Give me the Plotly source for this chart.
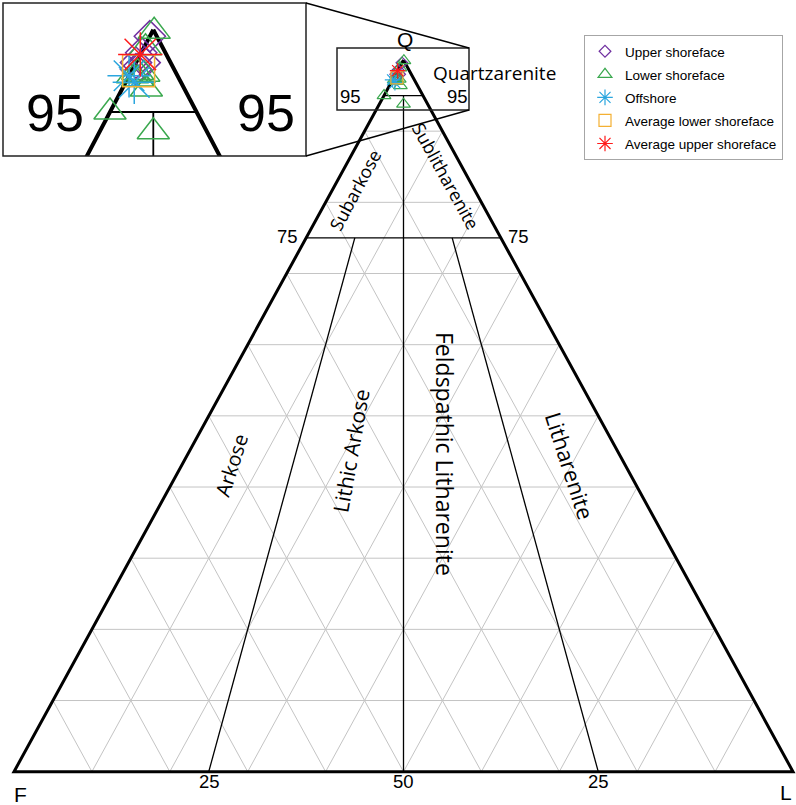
import plotly.graph_objects as go

# QFL point counts (percent Q, F, L)
upper_q = [99.6, 98.6, 98.0, 98.0, 97.6]
upper_f = [0.4, 1.4, 2.0, 1.5, 2.2]
upper_l = [0.0, 0.0, 0.0, 0.5, 0.2]

lower_q = [99.9, 98.9, 97.3, 97.4, 97.2, 97.0, 96.4, 95.0, 93.8]
lower_f = [0.0, 1.0, 1.9, 2.2, 2.6, 2.4, 2.2, 5.0, 3.1]
lower_l = [0.1, 0.1, 0.8, 0.4, 0.2, 0.6, 1.4, 0.0, 3.1]

offshore_q = [97.2, 96.8]
offshore_f = [2.8, 2.7]
offshore_l = [0.0, 0.5]

avg_lower_q = [97.5]
avg_lower_f = [2.1]
avg_lower_l = [0.4]

avg_upper_q = [98.5]
avg_upper_f = [1.5]
avg_upper_l = [0.0]

# Folk (1974) field boundaries as (Q, F, L) end points
edges = [(100, 0, 0), (0, 100, 0), (0, 0, 100), (100, 0, 0)]
folk_lines = [
    [(95, 5, 0), (95, 0, 5)],
    [(75, 25, 0), (75, 0, 25)],
    [(95, 2.5, 2.5), (0, 50, 50)],
    [(75, 18.75, 6.25), (0, 75, 25)],
    [(75, 6.25, 18.75), (0, 25, 75)],
]
grid_levels = [10, 20, 30, 40, 50, 60, 70, 80, 90]

W, H = 796, 805
# pixel positions of the F, L corners and the Q apex
FX, LX, BASE_Y, APEX_Y = 14, 793, 771.7, 60.0


def to_xy(q, f, l):
    s = q + f + l
    return l / s + q / s / 2, q / s


def path(points):
    xs, ys = [], []
    for p in points:
        x, y = to_xy(*p)
        xs.append(x)
        ys.append(y)
    return xs, ys


def segments(pairs):
    xs, ys = [], []
    for a, b in pairs:
        x, y = path([a, b])
        xs += x + [None]
        ys += y + [None]
    return xs, ys


def pp(x, y):
    return x / W, 1 - y / H


fig = go.Figure()

# gray 10 % grid
grid_pairs = []
for v in grid_levels:
    grid_pairs.append([(v, 100 - v, 0), (v, 0, 100 - v)])
    grid_pairs.append([(100 - v, v, 0), (0, v, 100 - v)])
    grid_pairs.append([(100 - v, 0, v), (0, 100 - v, v)])
gx, gy = segments(grid_pairs)
fig.add_trace(go.Scatter(x=gx, y=gy, mode='lines', line=dict(color='#c4c4c4', width=1),
                         showlegend=False, hoverinfo='skip'))

for xa, ya, thin, thick in [('x', 'y', 1.3, 3), ('x2', 'y2', 1.8, 4)]:
    fx, fy = segments(folk_lines)
    fig.add_trace(go.Scatter(x=fx, y=fy, mode='lines', line=dict(color='black', width=thin),
                             xaxis=xa, yaxis=ya, showlegend=False, hoverinfo='skip'))
    ex, ey = path(edges)
    fig.add_trace(go.Scatter(x=ex, y=ey, mode='lines', line=dict(color='black', width=thick),
                             xaxis=xa, yaxis=ya, showlegend=False, hoverinfo='skip'))

series = [
    ('Upper shoreface', upper_q, upper_f, upper_l, 'diamond-open', '#7030a0', 9, 24),
    ('Lower shoreface', lower_q, lower_f, lower_l, 'triangle-up-open', '#3aa84e', 12, 28),
    ('Offshore', offshore_q, offshore_f, offshore_l, 'asterisk-open', '#2ba6de', 13, 36),
    ('Average lower shoreface', avg_lower_q, avg_lower_f, avg_lower_l, 'square-open', '#f4b033', 12, 32),
    ('Average upper shoreface', avg_upper_q, avg_upper_f, avg_upper_l, 'asterisk-open', '#ff1a1a', 13, 37),
]

for name, q, f, l, sym, col, s_main, s_inset in series:
    x, y = path(zip(q, f, l))
    fig.add_trace(go.Scatter(x=x, y=y, mode='markers', name=name, legendgroup=name,
                             marker=dict(symbol=sym, size=s_main, color=col, line=dict(color=col, width=1.2))))
    fig.add_trace(go.Scatter(x=x, y=y, mode='markers', name=name, legendgroup=name,
                             xaxis='x2', yaxis='y2', showlegend=False,
                             marker=dict(symbol=sym, size=s_inset, color=col, line=dict(color=col, width=1.5))))

# axis ranges so the triangle lands on the reference pixels
sx = LX - FX
sy = BASE_Y - APEX_Y
x_range = [-FX / sx, (W - FX) / sx]
y_range = [(BASE_Y - H) / sy, BASE_Y / sy]

# inset: magnified view of the apex
ins_left, ins_right, ins_top, ins_bottom = 3, 306, 3, 156
ins_cx, ins_apex_y = 153.3, 29.7
ins_sx, ins_sy = 1732, 1646
ins_x_range = [0.5 + (ins_left - ins_cx) / ins_sx, 0.5 + (ins_right - ins_cx) / ins_sx]
ins_y_range = [1 - (ins_bottom - ins_apex_y) / ins_sy, 1 - (ins_top - ins_apex_y) / ins_sy]

arial = 'Liberation Sans, Arial, sans-serif'
sans = 'Open Sans, sans-serif'

hidden = dict(visible=False, showgrid=False, zeroline=False, fixedrange=True)
fig.update_layout(
    width=W, height=H,
    margin=dict(l=0, r=0, t=0, b=0),
    plot_bgcolor='white', paper_bgcolor='white',
    xaxis=dict(domain=[0, 1], range=x_range, **hidden),
    yaxis=dict(domain=[0, 1], range=y_range, **hidden),
    xaxis2=dict(domain=[ins_left / W, ins_right / W], range=ins_x_range, anchor='y2', **hidden),
    yaxis2=dict(domain=[1 - ins_bottom / H, 1 - ins_top / H], range=ins_y_range, anchor='x2', **hidden),
    font=dict(family=arial, color='black'),
    legend=dict(x=584 / W, y=1 - 35 / H, xanchor='left', yanchor='top',
                bgcolor='white', bordercolor='#a6a6a6', borderwidth=1,
                font=dict(size=13.5, family=arial),
                itemwidth=30, tracegroupgap=2.5, traceorder='grouped'),
)

# inset frame, zoom box and connector lines
shapes = []
for x0, y0, x1, y1 in [(ins_left, ins_top, ins_right, ins_bottom), (337, 48, 469, 110)]:
    a, b = pp(x0, y0)
    c, d = pp(x1, y1)
    shapes.append(dict(type='rect', xref='paper', yref='paper', x0=a, y0=b, x1=c, y1=d,
                       line=dict(color='#222222', width=1.5)))
for x0, y0, x1, y1 in [(306, 3, 469, 48), (306, 156, 469, 110)]:
    a, b = pp(x0, y0)
    c, d = pp(x1, y1)
    shapes.append(dict(type='line', xref='paper', yref='paper', x0=a, y0=b, x1=c, y1=d,
                       line=dict(color='black', width=1.3)))
fig.update_layout(shapes=shapes)

labels = [
    ('Q', 405, 40, 21, 0, arial),
    ('F', 20, 794, 21, 0, arial),
    ('L', 786, 792, 21, 0, arial),
    ('25', 210, 781, 18.5, 0, arial),
    ('50', 403, 781, 18.5, 0, arial),
    ('25', 598, 781, 18.5, 0, arial),
    ('75', 287, 236, 18.5, 0, arial),
    ('75', 518, 236, 18.5, 0, arial),
    ('95', 350, 96, 18.5, 0, arial),
    ('95', 457, 96, 18.5, 0, arial),
    ('95', 55, 113, 52, 0, arial),
    ('95', 266, 113, 52, 0, arial),
    ('Quartzarenite', 494, 73, 19, 0, sans),
    ('Subarkose', 355, 190, 18, -62, sans),
    ('Sublitharenite', 446, 176, 18, 61, sans),
    ('Arkose', 231, 465, 20, -72, sans),
    ('Lithic Arkose', 351, 451, 21, -80, sans),
    ('Feldspathic Litharenite', 445, 454, 23, 90, sans),
    ('Litharenite', 570, 465, 22, 72, sans),
]
for text, x, y, size, ang, fam in labels:
    a, b = pp(x, y)
    fig.add_annotation(x=a, y=b, xref='paper', yref='paper', text=text, showarrow=False,
                       textangle=ang, font=dict(size=size, family=fam, color='black'),
                       xanchor='center', yanchor='middle')

# the page body has an 8 px default margin; drop it so the figure fills the window
fig.write_html("out.html", config={'displayModeBar': False},
               post_script="document.body.style.margin = '0';")
